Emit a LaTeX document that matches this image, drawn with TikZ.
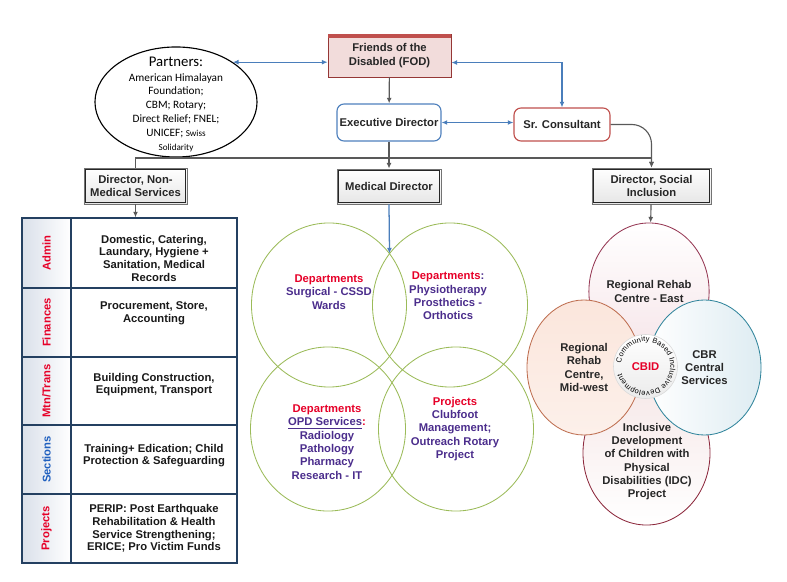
\documentclass[tikz,border=0pt]{standalone}
\usepackage{fontspec}
\setmainfont{Liberation Sans}
\newfontfamily\partnerfont{Carlito}
\usetikzlibrary{shapes.geometric,arrows.meta,decorations.text}

\definecolor{fodpink}{RGB}{242,220,219}
\definecolor{fodred}{RGB}{192,80,77}
\definecolor{fodborder}{RGB}{149,55,53}
\definecolor{linegray}{RGB}{89,89,89}
\definecolor{arrowblue}{RGB}{74,126,187}
\definecolor{execblue}{RGB}{79,129,189}
\definecolor{srred}{RGB}{192,80,77}
\definecolor{tblblue}{RGB}{36,64,97}
\definecolor{tagfill}{RGB}{218,224,234}
\definecolor{labred}{RGB}{230,0,40}
\definecolor{labblue}{RGB}{31,95,191}
\definecolor{txtpurple}{RGB}{75,45,140}
\definecolor{olive}{RGB}{155,187,89}
\definecolor{eastline}{RGB}{149,55,83}
\definecolor{eastfill}{RGB}{246,228,232}
\definecolor{midline}{RGB}{190,110,80}
\definecolor{midfill}{RGB}{251,230,220}
\definecolor{cbrline}{RGB}{49,133,156}
\definecolor{cbrfill}{RGB}{222,236,242}
\definecolor{idcline}{RGB}{140,40,60}
\definecolor{idcfill}{RGB}{246,232,232}

\begin{document}
\begin{tikzpicture}[x=0.025cm,y=-0.025cm,
    lbl/.style={font=\fontsize{8}{9.5}\selectfont\bfseries, align=center, text=black!85, inner sep=0pt},
    dirbox/.style={lbl, draw=black!55, line width=0.6pt,
      top color=white, bottom color=black!10, minimum height=0.9cm},
    conn/.style={draw=linegray, line width=0.8pt, -{Latex[length=4pt,width=3.5pt]}},
    barrow/.style={draw=arrowblue, line width=0.9pt, -{Latex[length=4pt,width=3.5pt]}},
    bconn/.style={barrow, {Latex[length=4pt,width=3.5pt]}-{Latex[length=4pt,width=3.5pt]}},
    medring/.style={ellipse, draw=olive, line width=0.6pt, minimum width=3.875cm, minimum height=4.1cm, inner sep=0pt},
    medtxt/.style={lbl, text=txtpurple},
    rowtag/.style={font=\fontsize{8}{9.5}\selectfont\bfseries, rotate=90, inner sep=0pt},
    rowtxt/.style={font=\fontsize{8}{9}\selectfont\bfseries, align=center, text=black!90, inner sep=0pt},
    hub/.style={ellipse, lbl, line width=0.6pt}]
    \useasboundingbox (0,0) rectangle (787,582);

    % top of the chart
    \node (fod) [lbl, draw=fodborder, fill=fodpink, line width=0.6pt, minimum width=3.075cm, minimum height=1.075cm] at (389.5,55.5) {Friends of the\\Disabled (FOD)};
    \fill[fodred] (fod.north west) rectangle ([yshift=-3pt]fod.north east);
    \node (exec) [lbl, draw=execblue, rounded corners=5pt, fill=white, line width=0.8pt, minimum width=2.6cm, minimum height=0.925cm] at (389,122.5) {Executive Director};
    \node (sr) [lbl, draw=srred, rounded corners=5pt, fill=white, line width=0.8pt, minimum width=2.4cm, minimum height=0.825cm] at (562,124.5) {Sr. Consultant};
    \node (partners) [ellipse, draw, line width=0.8pt, minimum width=4.05cm, minimum height=2.75cm, inner sep=0pt] at (176,102) {};
    \node (ptitle) [font=\partnerfont\fontsize{10.5}{12}\selectfont, inner sep=0pt] at (176,62) {Partners:};
    \node (plist) [font=\partnerfont\fontsize{8}{9.8}\selectfont, align=center, inner sep=0pt] at (176,112.5) {American Himalayan\\Foundation;\\CBM; Rotary;\\Direct Relief; FNEL;\\UNICEF; {\fontsize{6.5}{9.8}\selectfont Swiss}\\{\fontsize{6.5}{9.8}\selectfont Solidarity}};

    % directors
    \node (dirnon) [dirbox, minimum width=2.575cm] at (135.5,186) {Director, Non-\\Medical Services};
    \node (meddir) [dirbox, minimum width=2.6cm, minimum height=0.875cm] at (389,186.5) {Medical Director};
    \node (dirsoc) [dirbox, minimum width=2.975cm] at (651.5,186) {Director, Social\\Inclusion};
    \foreach \d in {dirnon,meddir,dirsoc}
        \draw[black!85, line width=0.5pt] ([shift={(1.6pt,-1.6pt)}]\d.north west) rectangle ([shift={(-1.6pt,1.6pt)}]\d.south east);
    \coordinate (bus) at (389,158);

    \draw[conn] (fod) -- (exec);
    \draw[bconn] (exec.east) -- (exec.east -| sr.west);
    \draw[bconn] (sr.north) |- ([yshift=-5pt]fod.east);
    \draw[bconn] (partners.35) -- (partners.35 -| fod.west);
    \draw[conn] (exec) -- (meddir);
    \draw[conn] (dirnon.north) |- (bus) -| (dirsoc.north);
    \draw[conn, rounded corners=14pt] (sr.east) -| (dirsoc.north);

    % non-medical services table
    \shade[left color=tagfill, right color=white] (22,218) rectangle (71,563);
    \node (tbl) [draw=tblblue, line width=0.8pt, minimum width=5.375cm, minimum height=8.625cm, inner sep=0pt] at (129.5,390.5) {};
    \draw[tblblue, line width=0.8pt] (tbl.north -| 71,0) -- (tbl.south -| 71,0);
    \foreach \yy in {288,357,425,494}
        \draw[tblblue, line width=0.8pt] (tbl.west |- 0,\yy) -- (tbl.east |- 0,\yy);
    \draw[conn] (dirnon.south) -- (dirnon.south |- tbl.north);

    \node (tagadmin) [rowtag, text=labred] at (46.5,253) {Admin};
    \node (tagfin) [rowtag, text=labred] at (46.5,322.5) {Finances};
    \node (tagmtn) [rowtag, text=labred] at (46.5,391) {Mtn/Trans};
    \node (tagsec) [rowtag, text=labblue] at (46.5,459.5) {Sections};
    \node (tagproj) [rowtag, text=labred] at (46.5,528.5) {Projects};

    \node (rowadmin) [rowtxt] at (154,258) {Domestic, Catering,\\Laundary, Hygiene +\\Sanitation, Medical\\Records};
    \node (rowfin) [rowtxt] at (154,313.5) {Procurement, Store,\\Accounting};
    \node (rowmtn) [rowtxt] at (154,384.5) {Building Construction,\\Equipment, Transport};
    \node (rowsec) [rowtxt] at (154,455.5) {Training+ Edication; Child\\Protection \& Safeguarding};
    \node (rowproj) [rowtxt] at (154,528.5) {PERIP: Post Earthquake\\Rehabilitation \& Health\\Service Strengthening;\\ERICE; Pro Victim Funds};

    % medical rings
    \node (surgc) [medring] at (329,305) {};
    \node (physc) [medring] at (450,305) {};
    \node (opdc) [medring] at (328,429) {};
    \node (projc) [medring] at (456,429) {};
    \coordinate (meet) at (389.5,253.5);
    \draw[barrow] (meddir.south) -- (meet);

    \node (surgtxt) [medtxt] at (329,292) {\textcolor{labred}{Departments}\\Surgical - CSSD\\Wards};
    \node (phystxt) [medtxt] at (448,296) {\textcolor{labred}{Departments}:\\Physiotherapy\\Prosthetics -\\Orthotics};
    \node (opdtxt) [medtxt] at (327,442) {\textcolor{labred}{Departments}\\\underline{OPD Services}\textcolor{labred}{:}\\Radiology\\Pathology\\Pharmacy\\Research - IT};
    \node (projtxt) [medtxt] at (455,429) {\textcolor{labred}{Projects}\\Clubfoot\\Management;\\Outreach Rotary\\Project};

    % social inclusion cluster
    \node (east) [hub, draw=eastline, top color=white, bottom color=eastfill, minimum width=2.9cm, minimum height=3.425cm] at (649,291.5) {Regional Rehab\\Centre - East};
    \draw[conn] (dirsoc) -- (east);
    \node (idc) [hub, draw=idcline, top color=idcfill, bottom color=white, minimum width=3.175cm, minimum height=3.6cm] at (646.5,453) {};
    \node (midw) [hub, draw=midline, top color=midfill, bottom color=midfill!60, minimum width=2.85cm, minimum height=3.375cm] at (584,367.5) {Regional\\Rehab\\Centre,\\Mid-west};
    \node (cbr) [hub, draw=cbrline, left color=white, right color=cbrfill, minimum width=2.825cm, minimum height=3.375cm] at (704.5,367.5) {CBR\\Central\\Services};
    \node (idctxt) [lbl] at (647,461.5) {Inclusive\\Development\\of Children with\\Physical\\Disabilities (IDC)\\Project};
    \node (cbid) [circle, draw=black!15, top color=white, bottom color=black!8, minimum size=1.6cm, inner sep=0pt, font=\fontsize{8}{9}\selectfont\bfseries, text=labred] at (645.5,366.5) {CBID};
    \begin{scope}[shift={(cbid.center)}, x=1cm, y=1cm]
        \path[decorate, decoration={text along path, text align=fit to path,
                text={|\fontsize{5.3}{6}\selectfont|Community Based Inclusive Development}}]
            (172:0.62) arc[start angle=172, end angle=-164, radius=0.62];
    \end{scope}
\end{tikzpicture}
\end{document}
